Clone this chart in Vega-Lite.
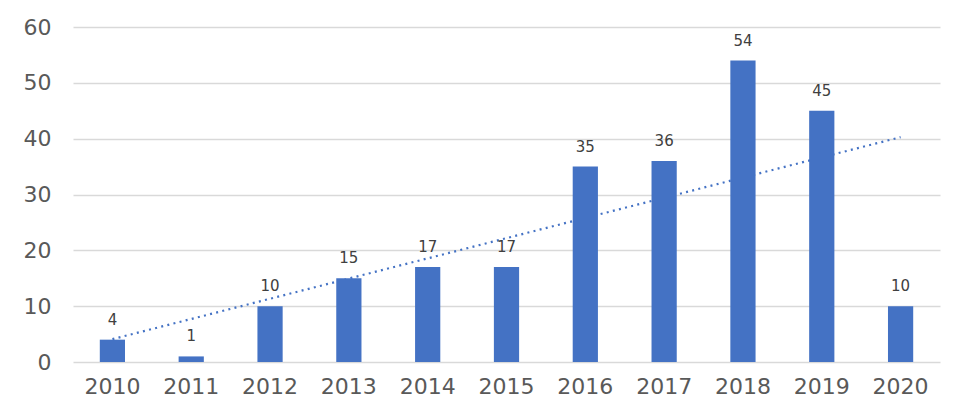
{
  "$schema": "https://vega.github.io/schema/vega-lite/v6.json",
  "width": 867,
  "height": 335,
  "autosize": {"type": "none"},
  "padding": {"left": 73, "top": 27, "right": 31, "bottom": 58},
  "background": "white",
  "config": {
    "view": {"stroke": null},
    "font": "DejaVu Sans"
  },
  "data": {
    "values": [
      {"year": 2010, "count": 4},
      {"year": 2011, "count": 1},
      {"year": 2012, "count": 10},
      {"year": 2013, "count": 15},
      {"year": 2014, "count": 17},
      {"year": 2015, "count": 17},
      {"year": 2016, "count": 35},
      {"year": 2017, "count": 36},
      {"year": 2018, "count": 54},
      {"year": 2019, "count": 45},
      {"year": 2020, "count": 10}
    ]
  },
  "encoding": {
    "x": {
      "field": "year",
      "type": "ordinal",
      "scale": {"paddingInner": 0.68, "paddingOuter": 0.34},
      "axis": {
        "title": null,
        "labelAngle": 0,
        "labelFont": "DejaVu Sans",
        "labelFontSize": 22,
        "labelColor": "#595959",
        "labelPadding": 14,
        "domain": false,
        "ticks": false,
        "grid": false
      }
    },
    "y": {
      "field": "count",
      "type": "quantitative",
      "scale": {"domain": [0, 60], "nice": false},
      "axis": {
        "title": null,
        "values": [0, 10, 20, 30, 40, 50, 60],
        "labelFont": "DejaVu Sans",
        "labelFontSize": 22,
        "labelColor": "#595959",
        "labelPadding": 22,
        "domain": false,
        "ticks": false,
        "grid": true,
        "gridColor": "#d9d9d9",
        "gridWidth": 1.5
      }
    }
  },
  "layer": [
    {
      "transform": [
        {"regression": "count", "on": "year", "method": "linear"}
      ],
      "mark": {
        "type": "line",
        "color": "#4472C4",
        "strokeWidth": 2.2,
        "strokeDash": [2, 4.3]
      },
      "encoding": {
        "x": {"field": "year", "type": "ordinal", "bandPosition": 0.5}
      }
    },
    {
      "mark": {"type": "bar", "color": "#4472C4"}
    },
    {
      "mark": {
        "type": "text",
        "baseline": "alphabetic",
        "dy": -15,
        "fontSize": 15,
        "font": "DejaVu Sans",
        "color": "#404040"
      },
      "encoding": {
        "text": {"field": "count", "type": "quantitative"}
      }
    }
  ]
}
